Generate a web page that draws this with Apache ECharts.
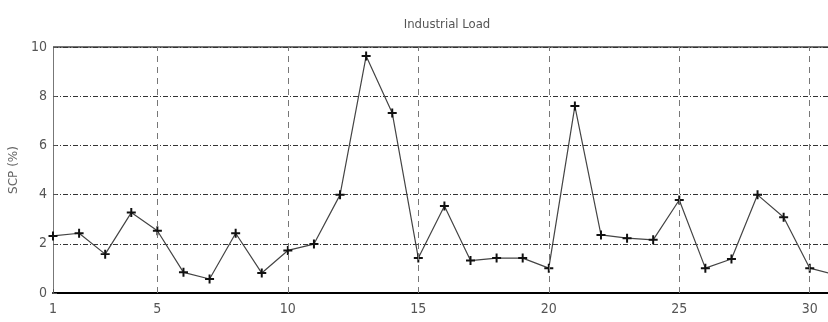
<!DOCTYPE html>
<html>
<head>
<meta charset="utf-8">
<script src="https://cdn.jsdelivr.net/npm/echarts@6/dist/echarts.min.js"></script>
<style>
  html, body { margin: 0; padding: 0; background: #fff; }
  #chart { width: 828px; height: 322px; }
</style>
</head>
<body>
<div id="chart"></div>
<script>
// Sample index (1..31) and SCP percentage per sample
const samples = [1,2,3,4,5,6,7,8,9,10,11,12,13,14,15,16,17,18,19,20,21,22,23,24,25,26,27,28,29,30,31];
const scp = [2.32,2.43,1.58,3.27,2.53,0.84,0.57,2.43,0.81,1.73,1.99,3.99,9.63,7.32,1.42,3.54,1.32,1.42,1.42,1.01,7.6,2.36,2.23,2.16,3.78,1.01,1.38,3.99,3.08,1.01,0.73];
const xTicks = [1,5,10,15,20,25,30];
const xGridValues = [5,10,15,20,25,30];

const narrow = "'Liberation Sans Narrow', 'DejaVu Sans Condensed', 'Roboto', sans-serif";
const plus = 'path://M-0.22,-1H0.22V-0.22H1V0.22H0.22V1H-0.22V0.22H-1V-0.22H-0.22Z';

const chart = echarts.init(document.getElementById('chart'), null, { renderer: 'canvas' });
chart.setOption({
  animation: false,
  title: {
    text: 'Industrial Load',
    left: 442, top: 13, textAlign: 'center',
    textStyle: { fontFamily: narrow, fontSize: 13, fontWeight: 'normal', color: '#555' }
  },
  grid: { left: 53, right: 0, top: 47, bottom: 29 },
  xAxis: {
    type: 'value', min: 1, max: 30.7,
    axisLine: { onZero: false, lineStyle: { color: '#000', width: 2 } },
    axisTick: { inside: true, length: 4, customValues: xTicks, lineStyle: { color: '#555' } },
    axisLabel: { customValues: xTicks, fontFamily: narrow, fontSize: 14, color: '#555', margin: 9 },
    splitLine: { show: false }
  },
  yAxis: {
    type: 'value', min: 0, max: 10, interval: 2,
    name: 'SCP (%)', nameLocation: 'middle', nameGap: 28, nameRotate: 90,
    nameTextStyle: { fontFamily: 'DejaVu Sans', fontSize: 12, color: '#666' },
    axisLine: { lineStyle: { color: '#777', width: 1 } },
    axisTick: { inside: true, length: 4, lineStyle: { color: '#555' } },
    axisLabel: { fontFamily: narrow, fontSize: 14, color: '#555', margin: 6 },
    splitLine: { show: true, lineStyle: { color: '#333', width: 1, type: [5, 2, 1, 2] } }
  },
  graphic: [{
    type: 'line', shape: { x1: 53, y1: 47, x2: 828, y2: 47 },
    style: { stroke: '#444', lineWidth: 1.5 }, silent: true
  }],
  series: [{
    type: 'line',
    data: samples.map((s, i) => [s, scp[i]]),
    clip: true,
    lineStyle: { color: '#444', width: 1.2 },
    symbol: plus, symbolSize: 9, showAllSymbol: true,
    itemStyle: { color: '#111' },
    markLine: {
      silent: true, symbol: 'none', label: { show: false },
      lineStyle: { color: '#777', width: 1, type: [6, 5] },
      data: xGridValues.map(v => ({ xAxis: v }))
    }
  }]
});
</script>
</body>
</html>
